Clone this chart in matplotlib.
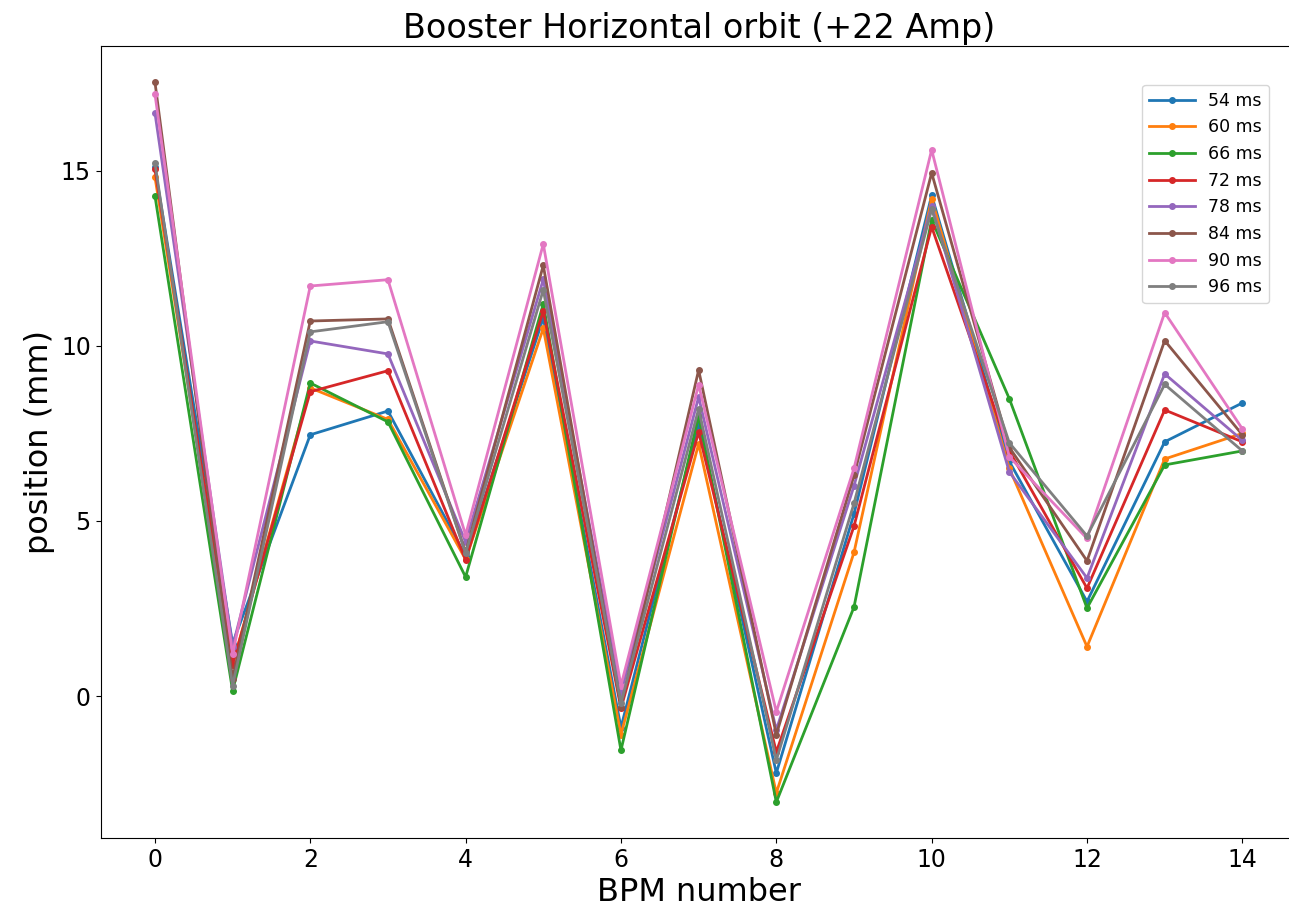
import numpy as np
import matplotlib.pyplot as plt

# BPM positions and horizontal orbit readings (mm) at each time
bpm = np.arange(15)
times = ['54 ms', '60 ms', '66 ms', '72 ms', '78 ms', '84 ms', '90 ms', '96 ms']

orbit_54 = [15.1, 1.5, 7.46, 8.14, 4.0, 10.8, -0.9, 7.8, -2.2, 5.2, 14.3, 6.7, 2.7, 7.26, 8.37]
orbit_60 = [14.83, 0.9, 8.8, 7.9, 3.9, 10.5, -1.1, 7.2, -2.77, 4.1, 14.2, 6.5, 1.41, 6.77, 7.5]
orbit_66 = [14.29, 0.15, 8.94, 7.83, 3.4, 11.2, -1.55, 8.0, -3.03, 2.54, 13.6, 8.49, 2.51, 6.6, 7.0]
orbit_72 = [15.06, 0.9, 8.69, 9.29, 3.89, 11.0, -0.35, 7.54, -1.6, 4.85, 13.4, 7.0, 3.08, 8.17, 7.26]
orbit_78 = [16.66, 1.4, 10.14, 9.77, 4.4, 11.9, 0.1, 8.54, -0.97, 6.0, 14.0, 6.4, 3.37, 9.2, 7.3]
orbit_84 = [17.54, 0.5, 10.71, 10.77, 4.1, 12.3, -0.3, 9.31, -1.1, 6.3, 14.94, 7.1, 3.86, 10.15, 7.46]
orbit_90 = [17.2, 1.2, 11.71, 11.89, 4.6, 12.91, 0.3, 8.89, -0.45, 6.5, 15.6, 6.83, 4.5, 10.95, 7.63]
orbit_96 = [15.23, 0.3, 10.4, 10.69, 4.08, 11.6, -0.2, 8.2, -1.83, 5.5, 13.9, 7.23, 4.57, 8.9, 7.0]

series = [orbit_54, orbit_60, orbit_66, orbit_72, orbit_78, orbit_84, orbit_90, orbit_96]

fig = plt.figure(figsize=(12.89, 9.17), dpi=100)
# the original is cropped a little on the right, so the axes run past the edge
ax = fig.add_axes([0.078, 0.086, 0.928, 0.864])

for t, vals in zip(times, series):
    ax.plot(bpm, vals, '.-', lw=2, markersize=8, label=t)

ax.set_title('Booster Horizontal orbit (+22 Amp)', fontsize=24)
ax.set_xlabel('BPM number', fontsize=23)
ax.set_ylabel('position (mm)', fontsize=23)
ax.set_xticks(range(0, 15, 2))
ax.set_yticks([0, 5, 10, 15])
ax.tick_params(labelsize=17)
ax.legend(fontsize=12.5, loc='upper left', bbox_to_anchor=(0.871, 0.951),
          borderaxespad=0, handlelength=2.6)

fig.savefig('out.png', dpi=100)
